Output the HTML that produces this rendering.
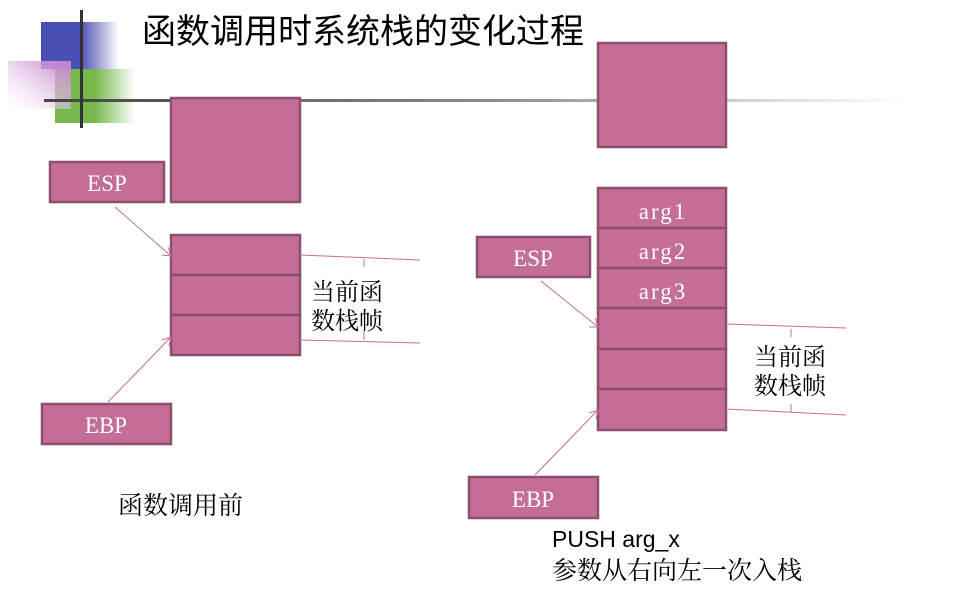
<!DOCTYPE html>
<html><head><meta charset="utf-8"><style>
html,body{margin:0;padding:0;background:#fff;width:966px;height:594px;overflow:hidden}
svg{display:block}
</style></head><body>
<svg width="966" height="594" viewBox="0 0 966 594" xmlns="http://www.w3.org/2000/svg">
<defs>
<linearGradient id="gb" x1="0" x2="1"><stop offset="0.5" stop-color="#4a4fb4"/><stop offset="1" stop-color="#4a4fb4" stop-opacity="0"/></linearGradient>
<linearGradient id="gg" x1="0" x2="1"><stop offset="0.5" stop-color="#76b84c"/><stop offset="1" stop-color="#76b84c" stop-opacity="0"/></linearGradient>
<linearGradient id="gp" x1="1" y1="0" x2="0" y2="1"><stop offset="0" stop-color="#c47ccc"/><stop offset="1" stop-color="#ffffff" stop-opacity="0.3"/></linearGradient>
<linearGradient id="gl" x1="0" x2="1"><stop offset="0" stop-color="#444"/><stop offset="0.5" stop-color="#888"/><stop offset="1" stop-color="#fff"/></linearGradient>
</defs>
<rect x="41" y="22" width="78" height="47" fill="url(#gb)"/>
<rect x="55" y="69" width="80" height="54" fill="url(#gg)"/>
<rect x="8" y="61" width="63" height="48" fill="url(#gp)"/>
<rect x="44" y="99" width="860" height="3" fill="url(#gl)"/>
<rect x="80" y="10" width="3" height="118" fill="#333"/>
<text x="142" y="43" font-family="Liberation Sans, Noto Sans CJK SC, sans-serif" font-size="34" fill="#000">函数调用时系统栈的变化过程</text>
<g fill="#c46e97" stroke="#8e4f6c" stroke-width="2.5">
<rect x="171" y="98" width="129" height="104"/>
<rect x="171" y="235" width="129" height="40"/><rect x="171" y="275" width="129" height="40"/><rect x="171" y="315" width="129" height="40"/>
<rect x="50" y="162" width="114" height="40"/>
<rect x="42" y="404" width="129" height="40"/>
<rect x="598" y="43" width="128" height="104"/>
<rect x="598" y="188" width="128" height="40"/><rect x="598" y="228" width="128" height="40"/><rect x="598" y="268" width="128" height="40"/>
<rect x="598" y="308" width="128" height="41"/><rect x="598" y="349" width="128" height="40"/><rect x="598" y="389" width="128" height="41"/>
<rect x="477" y="237" width="113" height="40"/>
<rect x="469" y="477" width="129" height="41"/>
</g>
<g font-family="Liberation Serif, serif" font-size="23" fill="#fff" text-anchor="middle">
<text x="107" y="191">ESP</text><text x="106" y="433">EBP</text>
<text x="533" y="266">ESP</text><text x="533" y="507">EBP</text>
<g font-size="23" letter-spacing="2">
<text x="663" y="219">arg1</text><text x="663" y="259">arg2</text><text x="663" y="299">arg3</text>
</g>
</g>
<g stroke="#c46e97" stroke-width="1" fill="none">
<line x1="115" y1="207" x2="171" y2="256"/><polyline points="162,255 171,256 168,247"/>
<line x1="108" y1="402" x2="171" y2="337"/><polyline points="162,340 171,337 169,346"/>
<line x1="541" y1="281" x2="598" y2="327"/><polyline points="589,327 598,327 595,318"/>
<line x1="535" y1="475" x2="598" y2="410"/><polyline points="589,413 598,410 596,419"/>
<line x1="300" y1="255" x2="420" y2="260"/><line x1="300" y1="340" x2="420" y2="343"/>
<line x1="364" y1="259" x2="364" y2="267"/><line x1="364" y1="332" x2="364" y2="340"/>
<line x1="726" y1="324" x2="846" y2="328"/><line x1="726" y1="409" x2="846" y2="415"/>
<line x1="791" y1="329" x2="791" y2="337"/><line x1="791" y1="404" x2="791" y2="412"/>
</g>
<g font-family="Liberation Serif, Noto Serif CJK SC, serif" font-size="24" fill="#000">
<text x="311" y="300">当前函</text><text x="311" y="329">数栈帧</text>
<text x="754" y="365">当前函</text><text x="754" y="394">数栈帧</text>
<text x="118" y="514" font-size="25">函数调用前</text>
<text x="552" y="547" font-size="23" font-family="Liberation Sans, sans-serif">PUSH arg_x</text>
<text x="552" y="579" font-size="25">参数从右向左一次入栈</text>
</g>
</svg>
</body></html>
